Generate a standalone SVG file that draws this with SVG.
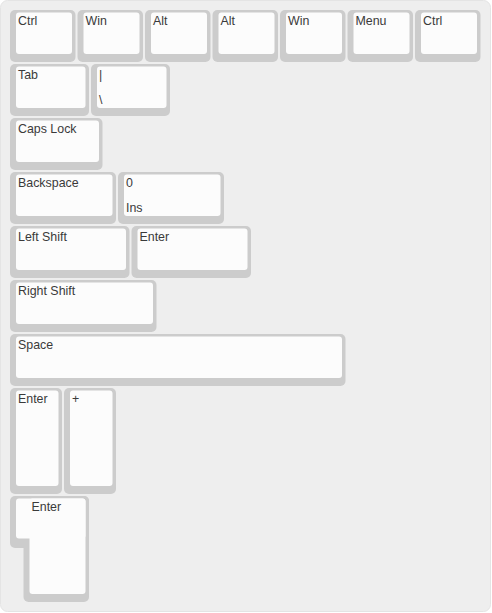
<svg xmlns="http://www.w3.org/2000/svg" width="492" height="613" viewBox="0 0 492 613">
<style>
.bg{fill:#eeeeee;stroke:#e4e4e4;stroke-width:1}
.o{fill:#cccccc}
.i{fill:#fcfcfc}
text{font-family:"Liberation Sans",Arial,sans-serif;font-size:12.4px;fill:#3a3a3a}
</style>
<rect class="bg" x="0.5" y="0.5" width="490" height="611" rx="7"/>
<g id="k-ctrl-l"><rect class="o" x="10" y="10" width="65.5" height="52" rx="5"/><rect class="i" x="16" y="12.5" width="56" height="41.5" rx="3"/><text x="18" y="25">Ctrl</text></g>
<g id="k-win-l"><rect class="o" x="77.5" y="10" width="65.5" height="52" rx="5"/><rect class="i" x="83.5" y="12.5" width="56" height="41.5" rx="3"/><text x="85.5" y="25">Win</text></g>
<g id="k-alt-l"><rect class="o" x="145" y="10" width="65.5" height="52" rx="5"/><rect class="i" x="151" y="12.5" width="56" height="41.5" rx="3"/><text x="153" y="25">Alt</text></g>
<g id="k-alt-r"><rect class="o" x="212.5" y="10" width="65.5" height="52" rx="5"/><rect class="i" x="218.5" y="12.5" width="56" height="41.5" rx="3"/><text x="220.5" y="25">Alt</text></g>
<g id="k-win-r"><rect class="o" x="280" y="10" width="65.5" height="52" rx="5"/><rect class="i" x="286" y="12.5" width="56" height="41.5" rx="3"/><text x="288" y="25">Win</text></g>
<g id="k-menu"><rect class="o" x="347.5" y="10" width="65.5" height="52" rx="5"/><rect class="i" x="353.5" y="12.5" width="56" height="41.5" rx="3"/><text x="355.5" y="25">Menu</text></g>
<g id="k-ctrl-r"><rect class="o" x="415" y="10" width="65.5" height="52" rx="5"/><rect class="i" x="421" y="12.5" width="56" height="41.5" rx="3"/><text x="423" y="25">Ctrl</text></g>
<g id="k-tab"><rect class="o" x="10" y="64" width="79" height="52" rx="5"/><rect class="i" x="16" y="66.5" width="69.5" height="41.5" rx="3"/><text x="18" y="79">Tab</text></g>
<g id="k-pipe"><rect class="o" x="91" y="64" width="79" height="52" rx="5"/><rect class="i" x="97" y="66.5" width="69.5" height="41.5" rx="3"/><text x="99" y="79">|</text><text x="99" y="104">\</text></g>
<g id="k-caps"><rect class="o" x="10" y="118" width="92.5" height="52" rx="5"/><rect class="i" x="16" y="120.5" width="83" height="41.5" rx="3"/><text x="18" y="133">Caps Lock</text></g>
<g id="k-backspace"><rect class="o" x="10" y="172" width="106" height="52" rx="5"/><rect class="i" x="16" y="174.5" width="96.5" height="41.5" rx="3"/><text x="18" y="187">Backspace</text></g>
<g id="k-ins"><rect class="o" x="118" y="172" width="106" height="52" rx="5"/><rect class="i" x="124" y="174.5" width="96.5" height="41.5" rx="3"/><text x="126" y="187">0</text><text x="126" y="212">Ins</text></g>
<g id="k-lshift"><rect class="o" x="10" y="226" width="119.5" height="52" rx="5"/><rect class="i" x="16" y="228.5" width="110" height="41.5" rx="3"/><text x="18" y="241">Left Shift</text></g>
<g id="k-enter-wide"><rect class="o" x="131.5" y="226" width="119.5" height="52" rx="5"/><rect class="i" x="137.5" y="228.5" width="110" height="41.5" rx="3"/><text x="139.5" y="241">Enter</text></g>
<g id="k-rshift"><rect class="o" x="10" y="280" width="146.5" height="52" rx="5"/><rect class="i" x="16" y="282.5" width="137" height="41.5" rx="3"/><text x="18" y="295">Right Shift</text></g>
<g id="k-space"><rect class="o" x="10" y="334" width="335.5" height="52" rx="5"/><rect class="i" x="16" y="336.5" width="326" height="41.5" rx="3"/><text x="18" y="349">Space</text></g>
<g id="k-enter-tall"><rect class="o" x="10" y="388" width="52" height="106" rx="5"/><rect class="i" x="16" y="390.5" width="42.5" height="95.5" rx="3"/><text x="18" y="403">Enter</text></g>
<g id="k-plus"><rect class="o" x="64" y="388" width="52" height="106" rx="5"/><rect class="i" x="70" y="390.5" width="42.5" height="95.5" rx="3"/><text x="72" y="403">+</text></g>
<g id="k-enter-iso">
<rect class="o" x="10" y="496" width="79" height="52" rx="5"/>
<rect class="o" x="23.5" y="496" width="65.5" height="106" rx="5"/>
<rect class="i" x="16" y="498.5" width="69.5" height="40" rx="3"/>
<rect class="i" x="29.5" y="498.5" width="56" height="95.5" rx="3"/>
<text x="31.5" y="511">Enter</text>
</g>
</svg>
